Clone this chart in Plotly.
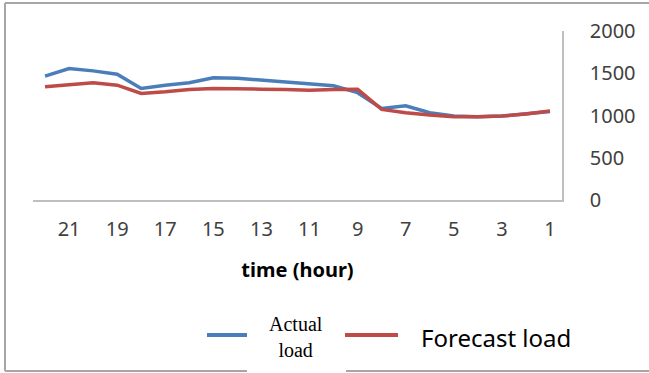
import plotly.graph_objects as go

hours = list(range(22, 0, -1))
actual_load = [1466, 1556, 1528, 1489, 1320, 1359, 1387, 1446, 1442, 1418, 1391,
               1367, 1351, 1270, 1084, 1115, 1032, 993, 985, 993, 1017, 1048]
forecast_load = [1339, 1359, 1387, 1359, 1261, 1280, 1308, 1320, 1320, 1312, 1308,
                 1300, 1308, 1310, 1072, 1032, 1005, 985, 985, 993, 1017, 1052]
x_ticks = [21, 19, 17, 15, 13, 11, 9, 7, 5, 3, 1]
y_ticks = [0, 500, 1000, 1500, 2000]

W, H = 649, 373
L, R, T, B = 33, 562, 31, 200


def px(x):
    return (x - L) / (R - L)


def py(y):
    return (B - y) / (B - T)


fig = go.Figure()
fig.add_trace(go.Scatter(x=hours, y=actual_load, mode="lines", name="Actual load",
                         line=dict(color="#4a7ebb", width=3.5), showlegend=False))
fig.add_trace(go.Scatter(x=hours, y=forecast_load, mode="lines", name="Forecast load",
                         line=dict(color="#be4b48", width=3.5), showlegend=False))

shapes = []
border = "#a6a6a6"
# frame
shapes.append(dict(type="line", xref="paper", yref="paper", x0=px(5), x1=px(5),
                   y0=py(3), y1=py(371), line=dict(color=border, width=2)))
shapes.append(dict(type="line", xref="paper", yref="paper", x0=px(5), x1=px(649),
                   y0=py(3), y1=py(3), line=dict(color=border, width=2)))
shapes.append(dict(type="line", xref="paper", yref="paper", x0=px(5), x1=px(247),
                   y0=py(371), y1=py(371), line=dict(color=border, width=2)))
shapes.append(dict(type="line", xref="paper", yref="paper", x0=px(346), x1=px(649),
                   y0=py(371), y1=py(371), line=dict(color=border, width=2)))
# legend symbols
shapes.append(dict(type="line", xref="paper", yref="paper", x0=px(207), x1=px(247),
                   y0=py(335), y1=py(335), line=dict(color="#4a7ebb", width=4)))
shapes.append(dict(type="line", xref="paper", yref="paper", x0=px(345), x1=px(398),
                   y0=py(335), y1=py(335), line=dict(color="#be4b48", width=4)))

annotations = [
    dict(text="Actual<br>load", xref="paper", yref="paper", x=px(296), y=py(337),
         xanchor="center", yanchor="middle", showarrow=False,
         font=dict(family="Liberation Serif", size=20, color="#000000")),
    dict(text="Forecast load", xref="paper", yref="paper", x=px(419), y=py(337),
         xanchor="left", yanchor="middle", showarrow=False,
         font=dict(family="Noto Sans", size=24, color="#000000")),
]

fig.update_layout(
    width=W, height=H,
    margin=dict(l=L, r=W - R, t=T, b=H - B),
    paper_bgcolor="white", plot_bgcolor="white",
    shapes=shapes, annotations=annotations,
    xaxis=dict(range=[22.5, 0.5], tickmode="array", tickvals=x_ticks,
               ticktext=[str(v) for v in x_ticks], showgrid=False, zeroline=False,
               showline=True, linecolor="#bfbfbf", linewidth=1.5, ticks="",
               ticklabelstandoff=10,
               tickfont=dict(family="Noto Sans", size=20, color="#404040"),
               title=dict(text="<b>time (hour)</b>", standoff=22,
                          font=dict(family="Noto Sans", size=20, color="#000000"))),
    yaxis=dict(range=[0, 2000], side="right", tickmode="array", tickvals=y_ticks,
               showgrid=False, zeroline=False, showline=True, linecolor="#bfbfbf",
               linewidth=1.5, ticks="", ticklabelstandoff=22,
               tickfont=dict(family="Noto Sans", size=20, color="#404040")),
)

fig.write_html("out.html", config={"displayModeBar": False},
               post_script="document.body.style.margin='0';")
